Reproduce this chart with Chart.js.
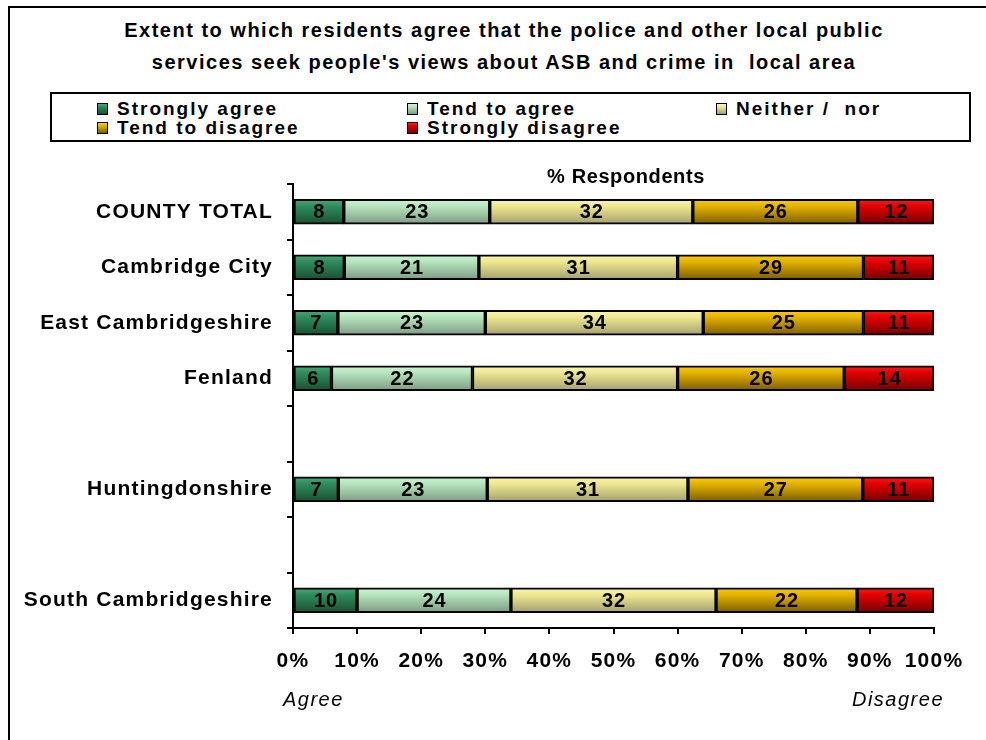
<!DOCTYPE html>
<html>
<head>
<meta charset="utf-8">
<script src="https://cdn.jsdelivr.net/npm/chart.js@4.4.1/dist/chart.umd.min.js"></script>
<style>
  html, body { margin: 0; padding: 0; background: #fff; }
  #wrap { position: relative; width: 986px; height: 740px; overflow: hidden; font-family: "Liberation Sans", Arial, sans-serif; color: #000; }
  #frame { position: absolute; left: 8px; top: 6px; width: 1000px; height: 800px; border: 2px solid #000; box-sizing: border-box; }
  #title { position: absolute; left: 0; top: 14px; width: 1008px; text-align: center; font-weight: bold; font-size: 20px; line-height: 32px; letter-spacing: 1.5px; white-space: pre; }
  #legend { position: absolute; left: 50px; top: 92px; width: 921px; height: 50px; border: 2px solid #000; box-sizing: border-box; }
  .item { position: absolute; font-weight: bold; font-size: 19px; line-height: 20px; letter-spacing: 2px; white-space: pre; }
  .sw { display: inline-block; width: 9px; height: 10px; border: 1px solid #000; margin-right: 9px; vertical-align: 0px; }
  canvas { position: absolute; left: 0; top: 0; }
</style>
</head>
<body>
<div id="wrap">
  <div id="frame"></div>
  <div id="title">Extent to which residents agree that the police and other local public
services seek people's views about ASB and crime in  local area</div>
  <div id="legend"></div>
  <canvas id="chart" width="986" height="740"></canvas>
</div>
<script>
// rows with "" are empty spacer rows, as in the original
const categories = ["COUNTY TOTAL", "Cambridge City", "East Cambridgeshire", "Fenland", "", "Huntingdonshire", "", "South Cambridgeshire"];
const seriesNames = ["Strongly agree", "Tend to agree", "Neither /  nor", "Tend to disagree", "Strongly disagree"];

const stronglyAgree    = [8, 8, 7, 6, null, 7, null, 10];
const tendToAgree      = [23, 21, 23, 22, null, 23, null, 24];
const neitherNor       = [32, 31, 34, 32, null, 31, null, 32];
const tendToDisagree   = [26, 29, 25, 26, null, 27, null, 22];
const stronglyDisagree = [12, 11, 11, 14, null, 11, null, 12];

const xTicks = [0, 10, 20, 30, 40, 50, 60, 70, 80, 90, 100];

const seriesValues = [stronglyAgree, tendToAgree, neitherNor, tendToDisagree, stronglyDisagree];

// top / middle / bottom of each bar's vertical shading
const shades = [
  ["#48a97a", "#2f8a5c", "#18502f"],
  ["#cdf6d4", "#b3e3bb", "#7d9a83"],
  ["#fbf8b2", "#ece68e", "#a39e70"],
  ["#fccd12", "#e2b000", "#7a5c00"],
  ["#ff1a1a", "#e00000", "#730000"],
];

const FONT = '"Liberation Sans", Arial, sans-serif';
const BAR = 25;

// 100% stacked: each row is scaled to its own total, as Excel does
const rowTotals = categories.map((_, i) =>
  seriesValues.reduce((s, arr) => s + (arr[i] || 0), 0));

function barFill(ctx, shade) {
  const chart = ctx.chart;
  const y = chart.scales.y;
  if (!chart.chartArea || !y || ctx.type !== "data") return shade[1];
  const c = y.getPixelForValue(ctx.dataIndex);
  const g = chart.ctx.createLinearGradient(0, c - BAR / 2, 0, c + BAR / 2);
  g.addColorStop(0, shade[0]);
  g.addColorStop(0.3, shade[1]);
  g.addColorStop(1, shade[2]);
  return g;
}

// legend, three columns like the original box
const legendEl = document.getElementById("legend");
const legendX = [45, 355, 664];
seriesNames.forEach((name, i) => {
  const d = document.createElement("div");
  d.className = "item";
  d.style.left = legendX[i % 3] + "px";
  d.style.top = (5 + Math.floor(i / 3) * 19) + "px";
  const sw = document.createElement("span");
  sw.className = "sw";
  sw.style.background = `linear-gradient(${shades[i][0]}, ${shades[i][1]} 30%, ${shades[i][2]})`;
  d.appendChild(sw);
  d.appendChild(document.createTextNode(name));
  legendEl.appendChild(d);
});

// the original text is a little wider than Arial, spread it a touch
const spacing = {
  id: "spacing",
  beforeLayout(chart) { chart.ctx.letterSpacing = "1.2px"; },
  beforeDraw(chart) { chart.ctx.letterSpacing = "1.2px"; },
};

const valueLabels = {
  id: "valueLabels",
  afterDatasetsDraw(chart) {
    const ctx = chart.ctx;
    ctx.save();
    ctx.font = "bold 20px " + FONT;
    ctx.letterSpacing = "1px";
    ctx.fillStyle = "#000";
    ctx.textAlign = "center";
    ctx.textBaseline = "middle";
    chart.data.datasets.forEach((ds, di) => {
      chart.getDatasetMeta(di).data.forEach((bar, i) => {
        const v = seriesValues[di][i];
        if (v == null) return;
        const p = bar.getCenterPoint();
        ctx.fillText(String(v), p.x + 0.5, p.y + 1);
      });
    });
    ctx.restore();
  }
};

const extraText = {
  id: "extraText",
  afterDraw(chart) {
    const { ctx, chartArea: a } = chart;
    ctx.save();
    ctx.fillStyle = "#000";
    ctx.textBaseline = "middle";
    ctx.textAlign = "center";
    ctx.font = "bold 20px " + FONT;
    ctx.letterSpacing = "0.6px";
    ctx.fillText("% Respondents", 626, a.top - 7);
    ctx.font = "italic 20px " + FONT;
    ctx.letterSpacing = "1.5px";
    ctx.textAlign = "left";
    ctx.fillText("Agree", a.left - 10, a.bottom + 72);
    ctx.textAlign = "right";
    ctx.fillText("Disagree", a.right + 10, a.bottom + 72);
    ctx.restore();
  }
};

new Chart(document.getElementById("chart").getContext("2d"), {
  type: "bar",
  data: {
    labels: categories,
    datasets: seriesValues.map((vals, k) => ({
      label: seriesNames[k],
      data: vals.map((v, i) => v == null ? null : v / rowTotals[i] * 100),
      backgroundColor: (c) => barFill(c, shades[k]),
      borderColor: "#000",
      borderWidth: 2,
      borderSkipped: false,
      barThickness: BAR,
    })),
  },
  options: {
    indexAxis: "y",
    responsive: false,
    animation: false,
    layout: { padding: { left: 0, right: 52, top: 184, bottom: 62 } },
    plugins: { legend: { display: false }, tooltip: { enabled: false } },
    scales: {
      x: {
        stacked: true, min: 0, max: 100,
        afterBuildTicks: (s) => { s.ticks = xTicks.map(v => ({ value: v })); },
        ticks: { callback: (v) => v + "%", color: "#000", font: { family: FONT, size: 21, weight: "bold" }, padding: 15, maxRotation: 0, autoSkip: false },
        grid: { drawOnChartArea: false, tickLength: 6, color: "#000", lineWidth: 2 },
        border: { color: "#000", width: 2 },
        afterFit: (s) => { s.height = 50; },
      },
      y: {
        stacked: true,
        ticks: { color: "#000", font: { family: FONT, size: 21, weight: "bold" }, padding: 14, autoSkip: false },
        grid: { drawOnChartArea: false, tickLength: 6, color: "#000", lineWidth: 2, offset: true },
        border: { color: "#000", width: 2 },
        afterFit: (s) => { s.width = 293; },
      },
    },
  },
  plugins: [spacing, valueLabels, extraText],
});
</script>
</body>
</html>
